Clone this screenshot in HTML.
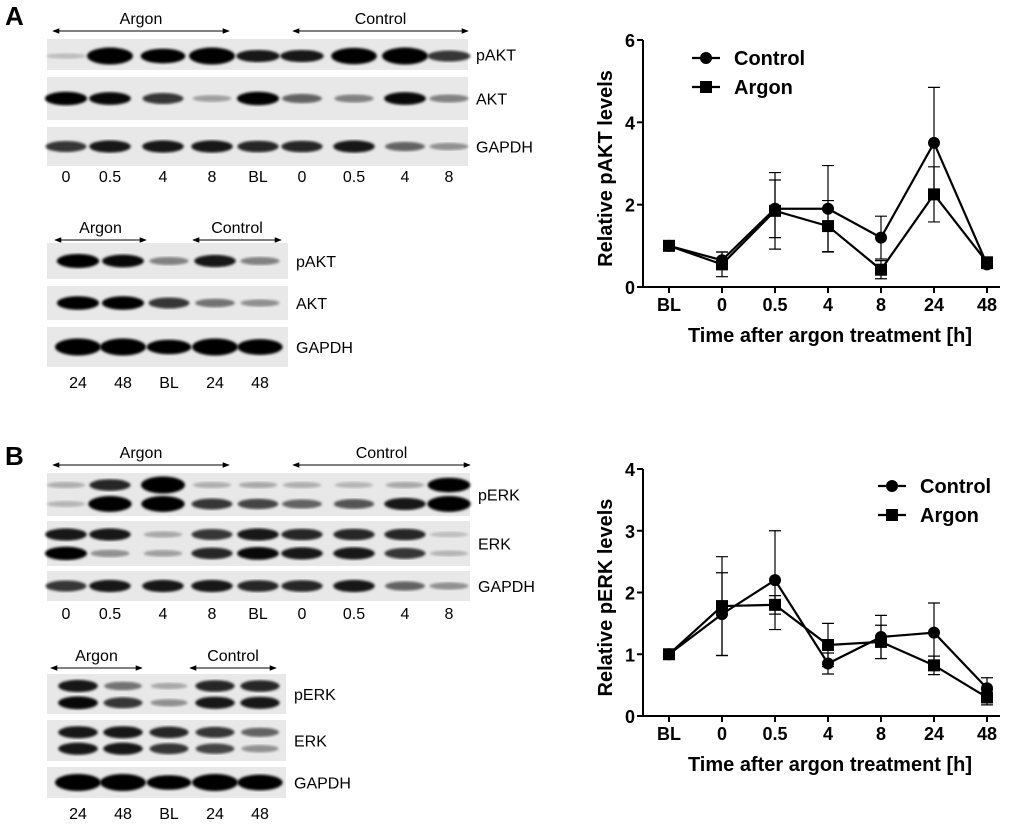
<!DOCTYPE html>
<html><head><meta charset="utf-8"><style>
body{margin:0;background:#fff}
svg text{font-family:"Liberation Sans",Arial,sans-serif}
</style></head><body>
<svg id="s" width="1024" height="826" xmlns="http://www.w3.org/2000/svg">
<defs><filter id="blur"><feGaussianBlur stdDeviation="1.2"/></filter>
<marker id="ah" viewBox="0 0 10 10" refX="9" refY="5" markerWidth="7" markerHeight="7" orient="auto-start-reverse"><path d="M0,1 L10,5 L0,9 z" fill="#000"/></marker></defs>
<g id="blots"></g>
<g id="chartA"></g>
<g id="chartB"></g>
</svg>
<script>
const categories=["BL","0","0.5","4","8","24","48"];
const aktControl=[1,0.65,1.9,1.9,1.2,3.5,0.55];
const aktControlErr=[0,0.2,0.7,1.05,0.52,1.35,0.1];
const aktArgon=[1,0.55,1.85,1.48,0.42,2.25,0.6];
const aktArgonErr=[0,0.3,0.93,0.62,0.22,0.67,0.08];
const aktTicks=[0,2,4,6];
const erkControl=[1,1.65,2.2,0.85,1.28,1.35,0.45];
const erkControlErr=[0,0.67,0.8,0.17,0.35,0.48,0.17];
const erkArgon=[1,1.78,1.8,1.15,1.2,0.82,0.3];
const erkArgonErr=[0,0.8,0.15,0.35,0.27,0.15,0.12];
const erkTicks=[0,1,2,3,4];

const NS="http://www.w3.org/2000/svg";
function mk(p,tag,at,txt){const e=document.createElementNS(NS,tag);for(const k in at)e.setAttribute(k,at[k]);if(txt!==undefined)e.textContent=txt;p.appendChild(e);return e;}
const blots=document.getElementById('blots');

let t=mk(blots,'text',{x:5,y:25,'font-size':26,'font-weight':'bold'},'A');


t=mk(blots,'text',{x:5,y:465,'font-size':26,'font-weight':'bold'},'B');



function strip(x0,x1,y0,y1,label,lanes,bands,w){
  const g=mk(blots,'g',{});
  
  
  mk(g,'rect',{x:x0,y:y0,width:x1-x0,height:y1-y0,fill:'#e8e8e8'});
  bands.forEach(b=>{
    b[1].forEach((v,i)=>{ if(v<=0)return;
      mk(g,'ellipse',{cx:lanes[i],cy:y0+(y1-y0)*b[0],rx:w/2+v*3,ry:2.5+v*6,fill:'#000','fill-opacity':Math.min(1,0.12+v*1.3),filter:'url(#blur)'});
    });
  });
  mk(g,'text',{x:x1+8,y:(y0+y1)/2+6,'font-size':16},label);
}
function lanesLabels(lanes,labels,y){labels.forEach((l,i)=>{const e=mk(blots,'text',{x:lanes[i],y:y,'font-size':16,'text-anchor':'middle'},l);});}
function arrow(x0,x1,y,txt){const l=mk(blots,'line',{x1:x0,y1:y,x2:x1,y2:y,stroke:'#000','stroke-width':1,'marker-start':'url(#ah)','marker-end':'url(#ah)'});
  
  mk(blots,'text',{x:(x0+x1)/2,y:y-7,'font-size':16,'text-anchor':'middle'},txt);}

const L9=[66,110,163,212,258,302,354,405,449];
const L5=[78,123,169,215,260];
const lab9=["0","0.5","4","8","BL","0","0.5","4","8"];
const lab5=["24","48","BL","24","48"];
arrow(53,229,31,'Argon');arrow(293,468,31,'Control');
strip(47,468,39,70,'pAKT',L9,[[0.55,[0.05,1,0.8,1,0.6,0.6,0.95,1,0.5]]],40);
strip(47,468,77,120,'AKT',L9,[[0.5,[0.7,0.65,0.5,0.15,0.7,0.35,0.25,0.65,0.25]]],38);
strip(47,468,127,166,'GAPDH',L9,[[0.5,[0.5,0.6,0.6,0.6,0.55,0.55,0.6,0.35,0.2]]],38);
lanesLabels(L9,lab9,182);
arrow(55,146,240,'Argon');arrow(193,281,240,'Control');
strip(47,288,243,279,'pAKT',L5,[[0.5,[0.75,0.65,0.25,0.6,0.25]]],38);
strip(47,288,286,320,'AKT',L5,[[0.5,[0.7,0.7,0.5,0.3,0.2]]],38);
strip(47,288,327,367,'GAPDH',L5,[[0.5,[1,1,0.8,1,0.9]]],40);
lanesLabels(L5,lab5,388);
arrow(53,229,465,'Argon');arrow(293,470,465,'Control');
strip(47,470,473,516,'pERK',L9,[[0.28,[0.1,0.55,1,0.1,0.12,0.1,0.08,0.12,0.8]],[0.72,[0.08,0.9,0.9,0.5,0.45,0.35,0.4,0.6,0.9]]],38);
strip(47,470,521,566,'ERK',L9,[[0.3,[0.6,0.6,0.12,0.5,0.6,0.55,0.55,0.55,0.05]],[0.72,[0.7,0.2,0.15,0.55,0.65,0.6,0.6,0.5,0.08]]],38);
strip(47,470,571,601,'GAPDH',L9,[[0.5,[0.5,0.6,0.6,0.6,0.55,0.55,0.6,0.35,0.2]]],38);
lanesLabels(L9,lab9,619);
arrow(51,142,668,'Argon');arrow(190,276,668,'Control');
strip(47,286,674,714,'pERK',L5,[[0.3,[0.6,0.3,0.12,0.55,0.55]],[0.72,[0.65,0.5,0.2,0.6,0.6]]],36);
strip(47,286,720,761,'ERK',L5,[[0.3,[0.6,0.6,0.55,0.5,0.35]],[0.7,[0.6,0.6,0.5,0.45,0.2]]],36);
strip(47,286,767,798,'GAPDH',L5,[[0.5,[1,1,0.8,1,0.9]]],40);
lanesLabels(L5,lab5,819);

function chart(gid,yTop,yBot,ymax,ticks,ctrl,ce,arg,ae,ytitle,legX,legY){
  const g=document.getElementById(gid);
  const x0=643,x1=1000;
  const xs=i=>669+i*53;
  const ys=v=>yBot-(v/ymax)*(yBot-yTop);
  let a=mk(g,'line',{x1:x0,y1:yTop,x2:x0,y2:yBot,stroke:'#000','stroke-width':2});
  
  a=mk(g,'line',{x1:x0,y1:yBot,x2:x1,y2:yBot,stroke:'#000','stroke-width':2});
  
  ticks.forEach(v=>{mk(g,'line',{x1:x0-6,y1:ys(v),x2:x0,y2:ys(v),stroke:'#000','stroke-width':2});
    const e=mk(g,'text',{x:x0-8,y:ys(v)+7,'font-size':18,'font-weight':'bold','text-anchor':'end'},v);
    });
  categories.forEach((c,i)=>{mk(g,'line',{x1:xs(i),y1:yBot,x2:xs(i),y2:yBot+6,stroke:'#000','stroke-width':2});
    const e=mk(g,'text',{x:xs(i),y:yBot+24,'font-size':18,'font-weight':'bold','text-anchor':'middle'},c);
    });
  let e=mk(g,'text',{x:830,y:yBot+55,'font-size':20,'font-weight':'bold','text-anchor':'middle'},'Time after argon treatment [h]');
  
  const cy=(yTop+yBot)/2+5;
  e=mk(g,'text',{x:612,y:cy,'font-size':20,'font-weight':'bold','text-anchor':'middle',transform:`rotate(-90 612 ${cy})`},ytitle);
  
  [[ctrl,ce,'circle','control'],[arg,ae,'square','argon']].forEach(([d,er,sh,nm])=>{
    er.forEach((v,i)=>{if(!v)return;const x=xs(i);
      const eb=mk(g,'path',{d:`M${x},${ys(d[i]+v)}V${ys(d[i]-v)}M${x-6},${ys(d[i]+v)}h12M${x-6},${ys(d[i]-v)}h12`,stroke:'#000','stroke-width':1.2,fill:'none'});
      });
    const ln=mk(g,'polyline',{points:d.map((v,i)=>xs(i)+','+ys(v)).join(' '),fill:'none',stroke:'#000','stroke-width':2.2});
    
    d.forEach((v,i)=>{let m;
      if(sh==='circle')m=mk(g,'circle',{cx:xs(i),cy:ys(v),r:6,fill:'#000'});
      else m=mk(g,'rect',{x:xs(i)-6,y:ys(v)-6,width:12,height:12,fill:'#000'});
      });
  });
  [['Control','circle',legY],['Argon','square',legY+29]].forEach(([n,sh,y])=>{
    const lg=mk(g,'g',{});
    mk(lg,'line',{x1:legX,y1:y,x2:legX+28,y2:y,stroke:'#000','stroke-width':2.2});
    if(sh==='circle')mk(lg,'circle',{cx:legX+14,cy:y,r:6,fill:'#000'});else mk(lg,'rect',{x:legX+8,y:y-6,width:12,height:12,fill:'#000'});
    mk(lg,'text',{x:legX+42,y:y+7,'font-size':20,'font-weight':'bold'},n);
  });
}
chart('chartA',40,287,6,aktTicks,aktControl,aktControlErr,aktArgon,aktArgonErr,'Relative pAKT levels',692,58);
chart('chartB',469,716,4,erkTicks,erkControl,erkControlErr,erkArgon,erkArgonErr,'Relative pERK levels',878,486);
</script>
</body></html>
